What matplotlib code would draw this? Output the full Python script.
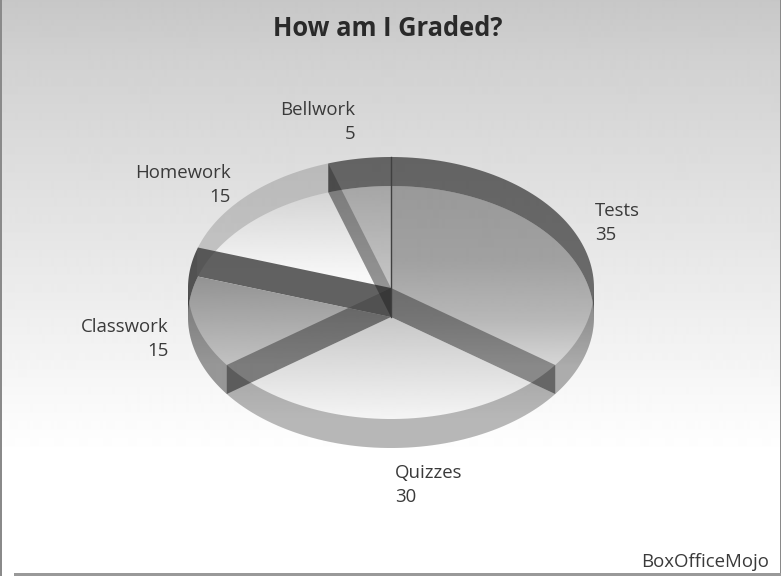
import numpy as np
import matplotlib
matplotlib.use('Agg')
import matplotlib.pyplot as plt
from matplotlib.patches import Polygon, Rectangle

categories = ['Tests', 'Quizzes', 'Classwork', 'Homework', 'Bellwork']
values = [35, 30, 15, 15, 5]

# styles per slice: floor gradient (y, grey), wall darkness
floor_stops = [
    ([186, 260, 320, 365], [0.60, 0.63, 0.72, 0.84]),
    ([317, 419], [0.78, 0.96]),
    ([260, 365], [0.54, 0.76]),
    ([192, 275], [0.83, 0.97]),
    ([186, 290], [0.65, 0.78]),
]
back_alpha = [0.55, 0, 0.65, 0.16, 0.55]
front_alpha = [0.20, 0.25, 0.22, 0, 0]
divider_color = ['black', 'black', 'black', '#404040', 'black']
divider_alpha = [0.0, 0.36, 0.36, 0.82, 0.25]
label_pos = [(595, 211, 'left'), (395, 473, 'left'), (169, 327, 'right'),
             (231, 173, 'right'), (355, 110, 'right')]

# pie geometry in pixels
cx, cy, rx, ry, depth = 391, 288, 203, 131, 29


def rim(theta, top=True):
    t = np.radians(theta)
    y0 = cy if top else cy + depth
    return cx + rx * np.sin(t), y0 - ry * np.cos(t)


def grad_fill(ax, pts, ys, greys):
    rows = np.arange(576)
    img = np.interp(rows, ys, greys).reshape(-1, 1)
    im = ax.imshow(img, cmap='gray', vmin=0, vmax=1, aspect='auto',
                   extent=(0, 781, 576, 0), interpolation='bilinear')
    patch = Polygon(pts, closed=True, transform=ax.transData, fc='none', ec='none')
    ax.add_patch(patch)
    im.set_clip_path(patch)


def wall(ax, t0, t1, alpha):
    if alpha <= 0:
        return
    th = np.linspace(t0, t1, 60)
    xt, yt = rim(th, True)
    xb, yb = rim(th, False)
    pts = np.column_stack([np.r_[xt, xb[::-1]], np.r_[yt, yb[::-1]]])
    ax.add_patch(Polygon(pts, closed=True, fc='black', ec='none', alpha=alpha))


def main():
    fig = plt.figure(figsize=(7.81, 5.76), dpi=100)
    ax = fig.add_axes([0, 0, 1, 1])
    ax.axis('off')

    # background
    grad_fill(ax, [(0, 0), (781, 0), (781, 576), (0, 576)],
              [0, 60, 455], [0.78, 0.82, 1.0])

    edges = 360 * np.cumsum([0] + values) / sum(values)

    # floors on the lower ellipse
    for i in range(len(values)):
        th = np.linspace(edges[i], edges[i + 1], 80)
        x, y = rim(th, False)
        pts = np.column_stack([np.r_[cx, x], np.r_[cy + depth, y]])
        grad_fill(ax, pts, floor_stops[i][0], floor_stops[i][1])

    # outer walls, split where the rim turns from back to front
    for i in range(len(values)):
        a, b = edges[i], edges[i + 1]
        for lo, hi, alpha in [(0, 90, back_alpha[i]), (90, 270, front_alpha[i]),
                              (270, 360, back_alpha[i])]:
            s, e = max(a, lo), min(b, hi)
            if e > s:
                wall(ax, s, e, alpha)

    # walls between the slices
    for i in range(1, len(values)):
        xt, yt = rim(edges[i], True)
        pts = [(cx, cy), (xt, yt), (xt, yt + depth), (cx, cy + depth)]
        ax.add_patch(Polygon(pts, closed=True, fc=divider_color[i], ec='none', alpha=divider_alpha[i]))
    xt, yt = rim(edges[0], True)
    ax.plot([xt, xt], [yt, cy + depth], color='#404040', lw=1)

    for name, val, (x, y, ha) in zip(categories, values, label_pos):
        ax.text(x, y, name, ha=ha, va='center', fontsize=13.4, family='Open Sans', color='#3a3a3a')
        ax.text(x, y + 24, str(val), ha=ha, va='center', fontsize=13.4, family='Open Sans', color='#3a3a3a')

    ax.text(388, 28, 'How am I Graded?', ha='center', va='center', fontsize=18.4,
            family='Open Sans', fontweight='bold', color='#2a2a2a')
    ax.text(769, 562, 'BoxOfficeMojo', ha='right', va='center', fontsize=13.4,
            family='Open Sans', color='#3a3a3a')

    # frame
    ax.add_patch(Rectangle((0, 0), 1.5, 576, fc='#8a8a8a', ec='none'))
    ax.add_patch(Rectangle((779.5, 0), 1.5, 576, fc='#8a8a8a', ec='none'))
    ax.add_patch(Rectangle((14, 573), 767, 3, fc='#999999', ec='none'))

    ax.set_xlim(0, 781)
    ax.set_ylim(576, 0)
    fig.savefig('out.png', dpi=100)


if __name__ == '__main__':
    main()
